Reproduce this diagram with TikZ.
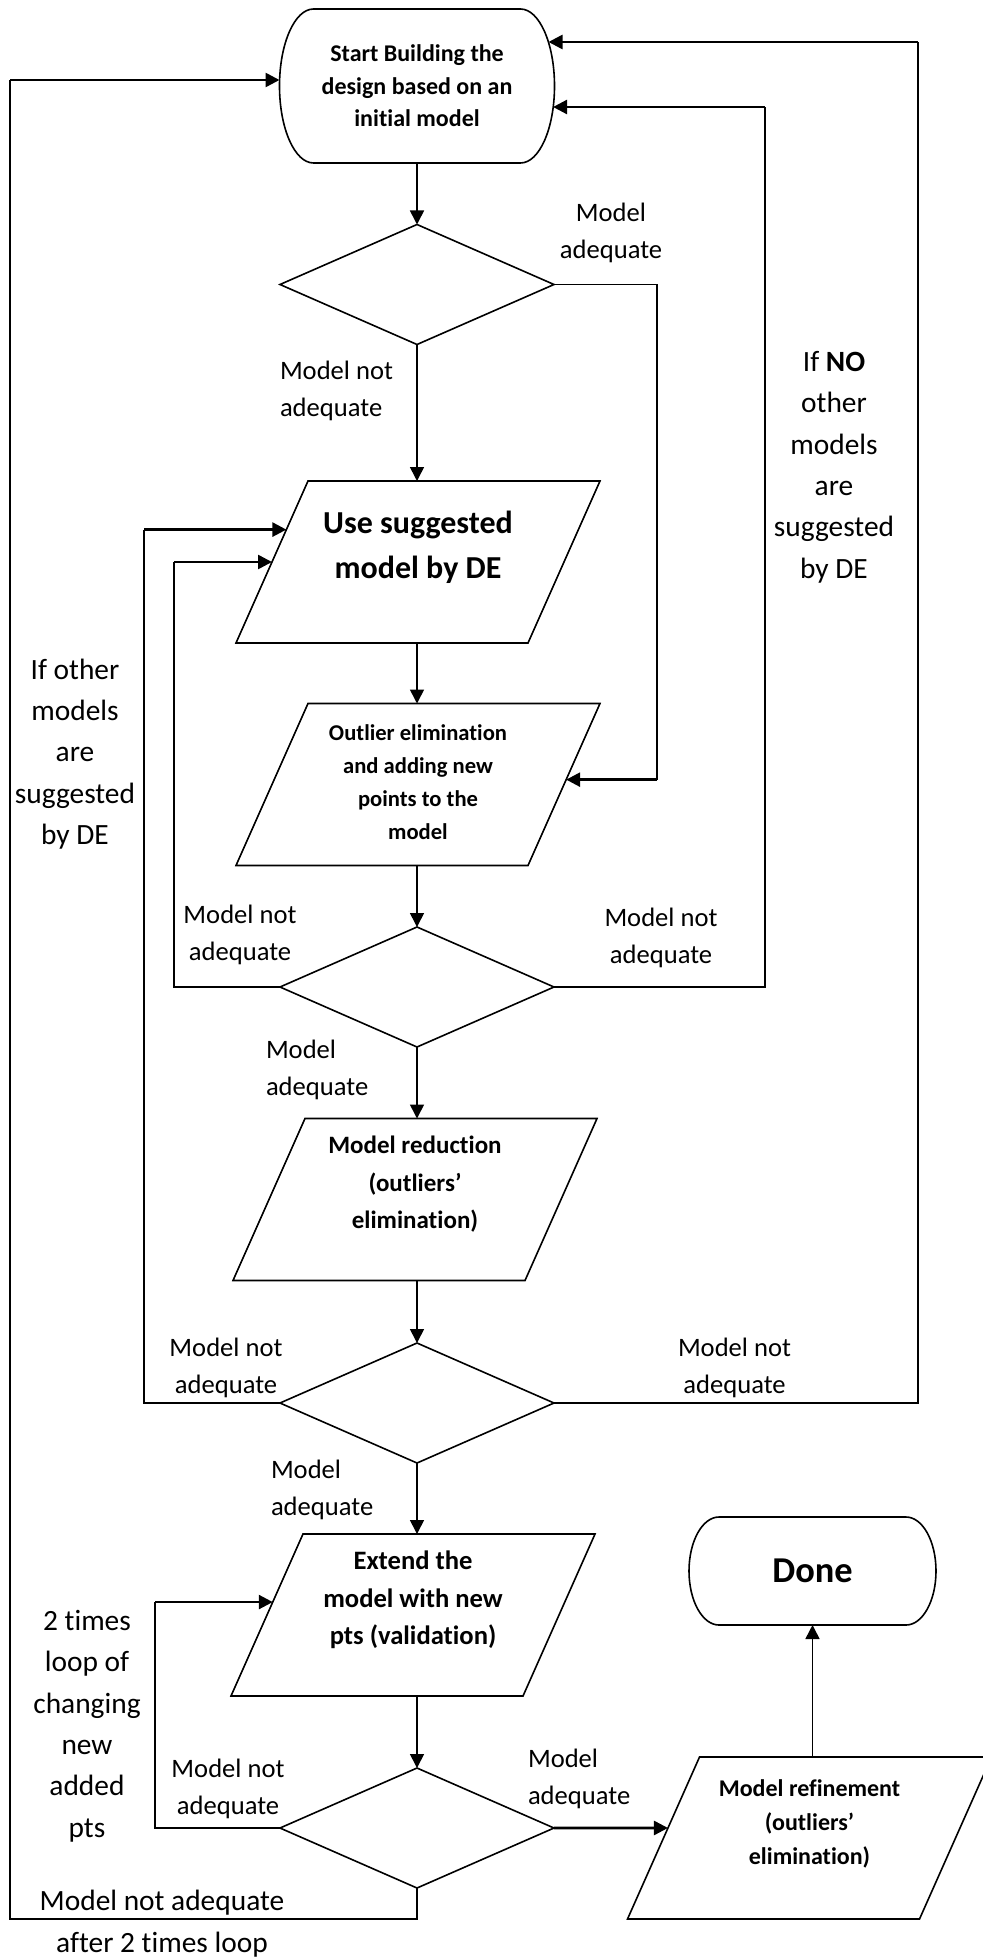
\documentclass[tikz,border=0pt]{standalone}
\usepackage{fontspec}
\setmainfont{Carlito}[Ligatures=NoCommon]
\usetikzlibrary{shapes.geometric, arrows.meta, calc}

\begin{document}
\begin{tikzpicture}[
            x=0.5pt, y=-0.5pt,
            every node/.style={inner sep=0pt, outer sep=0pt},
            outline/.style={line width=0.8pt},
            link/.style={line width=0.8pt},
            flow/.style={line width=0.8pt, -{Triangle[length=7pt, width=7pt]}},
            feed/.style={line width=1.3pt, -{Triangle[length=7pt, width=7pt]}},
            terminal/.style={align=center},
            decision/.style={diamond, draw, line width=0.8pt,
                minimum width=137pt, minimum height=60pt},
            io/.style={minimum width=146pt, minimum height=81pt},
            iotext/.style={align=center, font=\bfseries\fontsize{12pt}{16.5pt}\selectfont},
            note/.style={align=center, font=\fontsize{13.3pt}{18.5pt}\selectfont},
            noteleft/.style={note, align=left, anchor=west},
            sidecol/.style={align=center, font=\fontsize{14.7pt}{20.7pt}\selectfont}
            ]

            \useasboundingbox (0,0) rectangle (983,1958);

            % main column
            \node[terminal, minimum width=137.5pt, minimum height=77pt,
                font=\bfseries\fontsize{12pt}{16.3pt}\selectfont] (start) at (417,86)
                {Start Building the\\design based on an\\initial model};
            \node[decision] (d1) at (417,284.5) {};
            \node[io, label={[iotext, yshift=7.5pt, font=\bfseries\fontsize{16pt}{22.5pt}\selectfont]center:{Use suggested\\model by DE}}] (p1) at (418,562) {};
            \node[io, label={[iotext, yshift=1.2pt, font=\bfseries\fontsize{11.3pt}{16.5pt}\selectfont]center:{Outlier elimination\\and adding new\\points to the\\model}}] (p2) at (418,784.5) {};
            \node[decision] (d2) at (417,987) {};
            \node[io, label={[iotext, yshift=7.5pt, font=\bfseries\fontsize{12.5pt}{18.7pt}\selectfont]center:{Model reduction\\(outliers’\\elimination)}}] (p3) at (415,1199.5) {};
            \node[decision] (d3) at (417,1403) {};
            \node[io, label={[iotext, yshift=7.5pt, font=\bfseries\fontsize{13.3pt}{18.7pt}\selectfont]center:{Extend the\\model with new\\pts (validation)}}] (p4) at (413,1615) {};
            \node[decision] (d4) at (417,1828) {};

            % exit branch
            \node[io, label={[iotext, yshift=7pt, font=\bfseries\fontsize{12pt}{17pt}\selectfont]center:{Model refinement\\(outliers’\\elimination)}}] (p5) at (809.5,1838) {};
            \node[terminal, minimum width=123.5pt, minimum height=54pt,
                font=\bfseries\fontsize{18.2pt}{22pt}\selectfont] (done) at (812.5,1571) {Done};

            \foreach \n/\rx/\ry in {start/17pt/38.5pt, done/15pt/27pt} {
                \draw[outline] ([xshift=\rx]\n.north west) -- ([xshift=-\rx]\n.north east)
                    arc[start angle=90, end angle=-90, x radius=\rx, y radius=\ry]
                    -- ([xshift=\rx]\n.south west)
                    arc[start angle=270, end angle=90, x radius=\rx, y radius=\ry] -- cycle;
            }

            % slanted sides of the io boxes
            \foreach \n in {p1, p2, p3, p4, p5} {
                \draw[outline] ([xshift=18pt]\n.north west) coordinate (\n-tl)
                    -- ([xshift=18pt]\n.north east) coordinate (\n-tr)
                    -- ([xshift=-18pt]\n.south east) coordinate (\n-br)
                    -- ([xshift=-18pt]\n.south west) coordinate (\n-bl) -- cycle;
            }

            % labels
            \node[note] (na1) at (611,232.5) {Model\\adequate};
            \node[noteleft] (nn1) at (280,391) {Model not\\adequate};
            \node[note] (nn2l) at (240,934.5) {Model not\\adequate};
            \node[note] (nn2r) at (661,937.5) {Model not\\adequate};
            \node[noteleft] (na2) at (266,1069.5) {Model\\adequate};
            \node[note] (nn3l) at (226,1367.5) {Model not\\adequate};
            \node[note] (nn3r) at (734.5,1367.5) {Model not\\adequate};
            \node[noteleft] (na3) at (271,1490) {Model\\adequate};
            \node[note] (nn4) at (228,1788.5) {Model not\\adequate};
            \node[noteleft] (na4) at (528,1779) {Model\\adequate};
            \node[sidecol, font=\fontsize{14.7pt}{21pt}\selectfont] (nloop) at (162,1924)
                {Model not adequate\\after 2 times loop};
            \node[sidecol] (nother) at (75,754) {If other\\models\\are\\suggested\\by DE};
            \node[sidecol] (nno) at (834,467) {If \textbf{NO}\\other\\models\\are\\suggested\\by DE};
            \node[sidecol] (ntwice) at (87,1726) {2 times\\loop of\\changing\\new\\added\\pts};

            % loop lanes and entry points
            \coordinate (r1) at (657,0);
            \coordinate (r2) at (765,0);
            \coordinate (r3) at (918,0);
            \coordinate (l1) at (144,0);
            \coordinate (l2) at (174,0);
            \coordinate (l3) at (155,0);
            \coordinate (l4) at (10,0);
            \coordinate (bot) at (0,1919);
            \path ($(p2-tr)!0.47!(p2-br)$) coordinate (p2in)
                  ($(p1-tl)!0.30!(p1-bl)$) coordinate (p1in)
                  ($(p1-tl)!0.50!(p1-bl)$) coordinate (p1mid)
                  ($(p4-tl)!0.42!(p4-bl)$) coordinate (p4in)
                  ($(p5-tl)!0.438!(p5-bl)$) coordinate (p5in)
                  ($(start.west)+(0,-6)$) coordinate (s1)
                  ($(start.east)+(-1.4,21)$) coordinate (s2)
                  ($(start.east)+(-6,-44)$) coordinate (s3);

            \foreach \a/\b in {start/d1, d1/p1, p1/p2, p2/d2, d2/p3, p3/d3, d3/p4, p4/d4} {
                \draw[flow] (\a.south -| d1.north) -- (\b.north -| d1.north);
            }
            \draw[feed] (d4.east) -- (p5in);
            \draw[flow] (done.south |- p5.north) -- (done.south);

            \draw[link] (d1.east) -| (r1 |- p2in);
            \draw[feed] (r1 |- p2in) -- (p2in);
            \draw[link] (d2.east) -| (r2 |- s2);
            \draw[feed] (r2 |- s2) -- (s2);
            \draw[link] (d3.east) -| (r3 |- s3);
            \draw[feed] (r3 |- s3) -- (s3);
            \draw[link] (d2.west) -| (l2 |- p1mid);
            \draw[feed] (l2 |- p1mid) -- (p1mid);
            \draw[link] (d3.west) -| (l1 |- p1in);
            \draw[feed] (l1 |- p1in) -- (p1in);
            \draw[link] (d4.west) -| (l3 |- p4in);
            \draw[feed] (l3 |- p4in) -- (p4in);
            \draw[link] (d4.south) |- (l4 |- bot) -- (l4 |- s1);
            \draw[feed] (l4 |- s1) -- (s1);

        \end{tikzpicture}
\end{document}
